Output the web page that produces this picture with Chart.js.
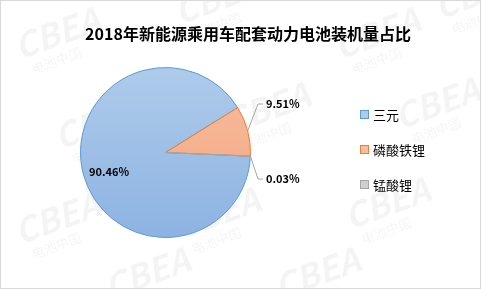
<!DOCTYPE html>
<html>
<head>
<meta charset="utf-8">
<script src="https://cdn.jsdelivr.net/npm/chart.js@4"></script>
<style>
  body { margin: 0; background: #fff; }
  #wrap { position: relative; width: 481px; height: 289px; }
</style>
</head>
<body>
<div id="wrap"><canvas id="pieChart" width="481" height="289"></canvas></div>
<script>
// Chart data
const chartTitle = '2018年新能源乘用车配套动力电池装机量占比';
const categories = ['三元', '磷酸铁锂', '锰酸锂'];
const shares = [90.46, 9.51, 0.03];

const fillTop = ['#aecbea', '#f6bd9f', '#cfcfcf'];
const fillBottom = ['#8db3e2', '#f4a57e', '#b5b5b5'];
const borderColors = ['#5b9bd5', '#ed7d31', '#a5a5a5'];

const FONT = "'Microsoft YaHei', 'Noto Sans CJK SC', sans-serif";

// Slice fill as vertical gradient (Excel style)
function sliceFill(context) {
  const chart = context.chart;
  const i = context.dataIndex;
  const area = chart.chartArea;
  if (!area) return fillTop[i];
  const g = chart.ctx.createLinearGradient(0, area.top, 0, area.bottom);
  g.addColorStop(0, fillTop[i]);
  g.addColorStop(1, fillBottom[i]);
  return g;
}

// Background, frame and watermark
const backdropPlugin = {
  id: 'backdrop',
  beforeDraw(chart) {
    const ctx = chart.ctx;
    ctx.save();
    ctx.fillStyle = '#fff';
    ctx.fillRect(0, 0, chart.width, chart.height);
    ctx.fillStyle = 'rgba(0,0,0,0.045)';
    const spots = [[20, 60], [180, 25], [340, 60], [60, 150], [230, 135], [400, 130],
                   [20, 245], [180, 240], [350, 230], [110, 300], [280, 300], [440, 20]];
    spots.forEach(p => {
      ctx.save();
      ctx.translate(p[0], p[1]);
      ctx.rotate(-0.35);
      ctx.font = "italic bold 34px " + FONT;
      ctx.fillText('CBEA', 0, 0);
      ctx.font = "13px " + FONT;
      ctx.fillText('电池中国', 8, 18);
      ctx.restore();
    });
    ctx.strokeStyle = '#d9d9d9';
    ctx.lineWidth = 1;
    ctx.strokeRect(0.5, 0.5, chart.width - 1, chart.height - 1);
    ctx.restore();
  }
};

// Title, percentage labels with leader lines, legend
const labelPlugin = {
  id: 'pieLabels',
  afterDraw(chart) {
    const ctx = chart.ctx;
    const arcs = chart.getDatasetMeta(0).data;
    ctx.save();

    ctx.fillStyle = '#000';
    ctx.font = "bold 16px " + FONT;
    ctx.textAlign = 'center';
    ctx.textBaseline = 'middle';
    ctx.fillText(chartTitle, 248, 34);

    ctx.font = "bold 11px " + FONT;
    // label for big slice inside
    ctx.textAlign = 'left';
    ctx.fillText(shares[0].toFixed(2) + '%', 89, 172);

    // outside labels with leader lines
    const outside = [
      { i: 1, x: 266, y: 104 },
      { i: 2, x: 266, y: 179 }
    ];
    outside.forEach(o => {
      const arc = arcs[o.i];
      const mid = (arc.startAngle + arc.endAngle) / 2;
      const r = arc.outerRadius;
      const ex = arc.x + Math.cos(mid) * r;
      const ey = arc.y + Math.sin(mid) * r;
      ctx.strokeStyle = '#a6a6a6';
      ctx.lineWidth = 1;
      ctx.beginPath();
      ctx.moveTo(ex, ey);
      ctx.lineTo(o.x - 8, o.y);
      ctx.lineTo(o.x - 3, o.y);
      ctx.stroke();
      ctx.fillStyle = '#000';
      ctx.fillText(shares[o.i].toFixed(2) + '%', o.x, o.y);
    });

    // legend
    ctx.font = "13px " + FONT;
    categories.forEach((c, i) => {
      const y = 115 + i * 35;
      ctx.fillStyle = fillTop[i];
      ctx.fillRect(360.5, y - 4.5, 8, 8);
      ctx.strokeStyle = borderColors[i];
      ctx.strokeRect(360.5, y - 4.5, 8, 8);
      ctx.fillStyle = '#000';
      ctx.fillText(c, 373, y);
    });
    ctx.restore();
  }
};

const ctx = document.getElementById('pieChart').getContext('2d');
const pieChart = new Chart(ctx, {
  type: 'pie',
  data: {
    labels: categories,
    datasets: [{
      data: shares,
      backgroundColor: sliceFill,
      borderColor: borderColors,
      borderWidth: 1
    }]
  },
  options: {
    responsive: false,
    animation: false,
    rotation: 92.5,
    layout: {
      padding: { left: 80, right: 230, top: 67, bottom: 51 }
    },
    plugins: {
      legend: { display: false },
      title: { display: false },
      tooltip: { enabled: false }
    }
  },
  plugins: [backdropPlugin, labelPlugin]
});
</script>
</body>
</html>
